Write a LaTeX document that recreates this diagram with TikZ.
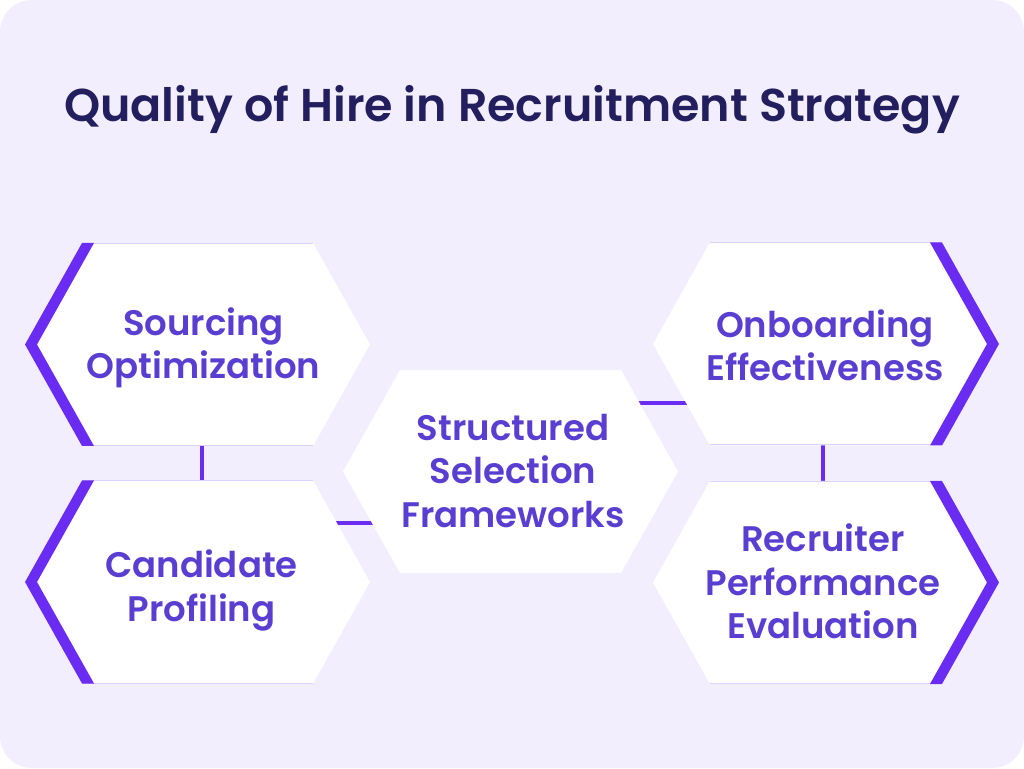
\documentclass[tikz,border=0pt]{standalone}
\usepackage{fontspec}
\setmainfont{Poppins}[UprightFont={* SemiBold}, BoldFont={* Bold}]
\usetikzlibrary{shapes.symbols}
\definecolor{bgl}{HTML}{F2EEFE}
\definecolor{titlec}{HTML}{231F5E}
\definecolor{txtp}{HTML}{5A3ED2}
\definecolor{linep}{HTML}{6A2CF2}
\definecolor{edgel}{HTML}{DCD2FF}
\pgfdeclarelayer{back}
\pgfdeclarelayer{conn}
\pgfsetlayers{back,conn,main}
\tikzset{
  hexbox/.style={signal, signal to=west and east, signal pointer angle=121.4,
    minimum width=#1, minimum height=203pt, inner sep=0pt, fill=white, draw=none},
  txt/.style={font=\fontsize{35.5}{43.5}\selectfont, text=txtp, align=center, inner sep=0pt},
  conn/.style={draw=linep, line width=4pt},
  band/.style={fill=linep},
  edgeline/.style={draw=edgel, line width=1pt}
}
\newcommand\leftband[1]{\fill[band] ([xshift=-172.5pt]#1.center) -- ++(57,101.5) -- ++(12,0) -- ++(-57,-101.5) -- ++(57,-101.5) -- ++(-12,0) -- cycle;}
\newcommand\rightband[1]{\fill[band] ([xshift=173pt]#1.center) -- ++(-57,101.5) -- ++(-12,0) -- ++(57,-101.5) -- ++(-57,-101.5) -- ++(12,0) -- cycle;}
\newcommand\hexedges[2]{%
  \draw[edgeline] ([xshift=-#2pt+57pt,yshift=101pt]#1.center) -- ++(2*#2-114,0);
  \draw[edgeline] ([xshift=-#2pt+57pt,yshift=-101pt]#1.center) -- ++(2*#2-114,0);}
\begin{document}
\begin{tikzpicture}[x=1pt,y=1pt]
\useasboundingbox (0,0) rectangle (1024,768);
\begin{pgfonlayer}{back}
  \fill[bgl, rounded corners=32pt] (0,0) rectangle (1024,768);
\end{pgfonlayer}
\node[font=\fontsize{46}{56}\selectfont, text=titlec] (title) at (512,658) {Quality of Hire in Recruitment Strategy};
% hexagons
\node[hexbox=345pt] (src) at (197.5,423.5) {};
\node[hexbox=345pt] (cand) at (197.5,186) {};
\node[hexbox=335pt] (ctr) at (510.5,296.5) {};
\node[hexbox=346pt] (onb) at (826,424) {};
\node[hexbox=346pt] (rec) at (826,185.5) {};
\hexedges{src}{172.5}
\hexedges{cand}{172.5}
\hexedges{onb}{173}
\hexedges{rec}{173}
\leftband{src}
\leftband{cand}
\rightband{onb}
\rightband{rec}
% texts
\node[txt] (srcT) at (203.5,420) {Sourcing\\Optimization};
\node[txt] (candT) at (201.5,177.5) {Candidate\\Profiling};
\node[txt] (ctrT) at (513,297) {Structured\\Selection\\Frameworks};
\node[txt] (onbT) at (825,423) {Onboarding\\Effectiveness};
\node[txt] (recT) at (823,186.5) {Recruiter\\Performance\\Evaluation};
% connectors
\begin{pgfonlayer}{conn}
  \draw[conn] ([xshift=4pt]src.center) -- ([xshift=4pt]cand.center);
  \draw[conn] ([yshift=59pt]cand.center) -- ([yshift=59pt]cand.center -| ctr.center);
  \draw[conn] ([yshift=68.5pt]ctr.center) -- ([yshift=68.5pt]ctr.center -| onb.center);
  \draw[conn] ([xshift=-3pt]onb.center) -- ([xshift=-3pt]rec.center);
\end{pgfonlayer}
\end{tikzpicture}
\end{document}
